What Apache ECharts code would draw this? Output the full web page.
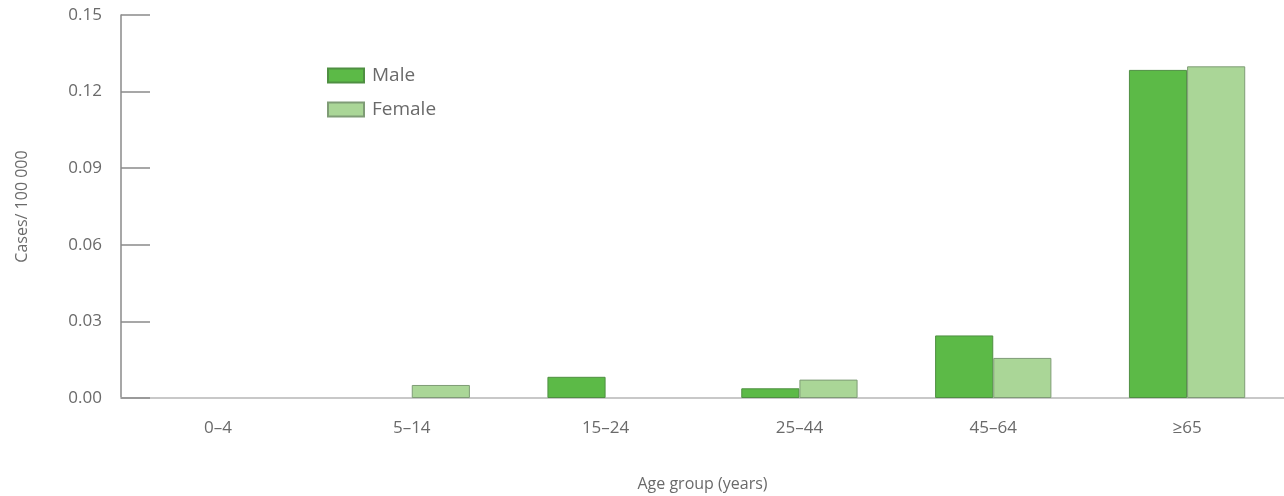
<!DOCTYPE html>
<html>
<head>
<meta charset="utf-8">
<script src="https://cdn.jsdelivr.net/npm/echarts@6/dist/echarts.min.js"></script>
<style>html,body{margin:0;padding:0;background:#fff;}#c{width:1284px;height:496px;}</style>
</head>
<body>
<div id="c"></div>
<script>
const categories = ['0–4', '5–14', '15–24', '25–44', '45–64', '≥65'];
const maleValues = [0, 0, 0.0083, 0.0038, 0.0245, 0.1285];
const femaleValues = [0, 0.0051, 0, 0.0072, 0.0157, 0.1299];
const yTicks = [0, 0.03, 0.06, 0.09, 0.12, 0.15];

const FONT = 'Open Sans';
const TXT = '#6a6a6a';
const noZero = arr => arr.map(v => (v === 0 ? '-' : v));
const chart = echarts.init(document.getElementById('c'));
chart.setOption({
  animation: false,
  backgroundColor: '#fff',
  grid: { left: 121, right: 0, top: 15, bottom: 98, containLabel: false, outerBoundsMode: 'none' },
  legend: {
    orient: 'vertical', left: 322, top: 61,
    icon: 'rect',
    itemWidth: 36, itemHeight: 14, itemGap: 15,
    textStyle: { fontFamily: FONT, fontSize: 19, color: TXT, padding: [0, 0, 0, 3] },
    data: ['Male', 'Female']
  },
  xAxis: {
    type: 'category', data: categories, boundaryGap: true,
    name: 'Age group (years)', nameLocation: 'middle', nameGap: 78,
    nameTextStyle: { fontFamily: FONT, fontSize: 16, color: TXT },
    axisLine: { lineStyle: { color: '#c8c8c8', width: 2 } },
    axisTick: { inside: true, length: 7, lineStyle: { color: '#a8a8a8', width: 1 } },
    axisLabel: { margin: 22, fontFamily: FONT, fontSize: 17, color: TXT },
    splitLine: { show: false }
  },
  yAxis: {
    type: 'value', min: yTicks[0], max: yTicks[yTicks.length - 1], interval: 0.03,
    name: 'Cases/ 100 000', nameLocation: 'middle', nameGap: 91, nameRotate: 90,
    nameTextStyle: { fontFamily: FONT, fontSize: 16, color: TXT },
    axisLine: { show: true, lineStyle: { color: '#8a8a8a', width: 1.5 } },
    axisTick: { show: true, inside: true, length: 29, lineStyle: { color: '#8a8a8a', width: 1.5 } },
    axisLabel: { margin: 19, fontFamily: FONT, fontSize: 17, color: TXT, formatter: v => v.toFixed(2) },
    splitLine: { show: false }
  },
  series: [
    { name: 'Male', type: 'bar', data: noZero(maleValues), barGap: '0%', barCategoryGap: '40%',
      itemStyle: { color: '#5cba47', borderColor: '#4f8f42', borderWidth: 1 } },
    { name: 'Female', type: 'bar', data: noZero(femaleValues), barGap: '0%', barCategoryGap: '40%',
      itemStyle: { color: '#aad697', borderColor: '#7f9c76', borderWidth: 1 } }
  ]
});
</script>
</body>
</html>
